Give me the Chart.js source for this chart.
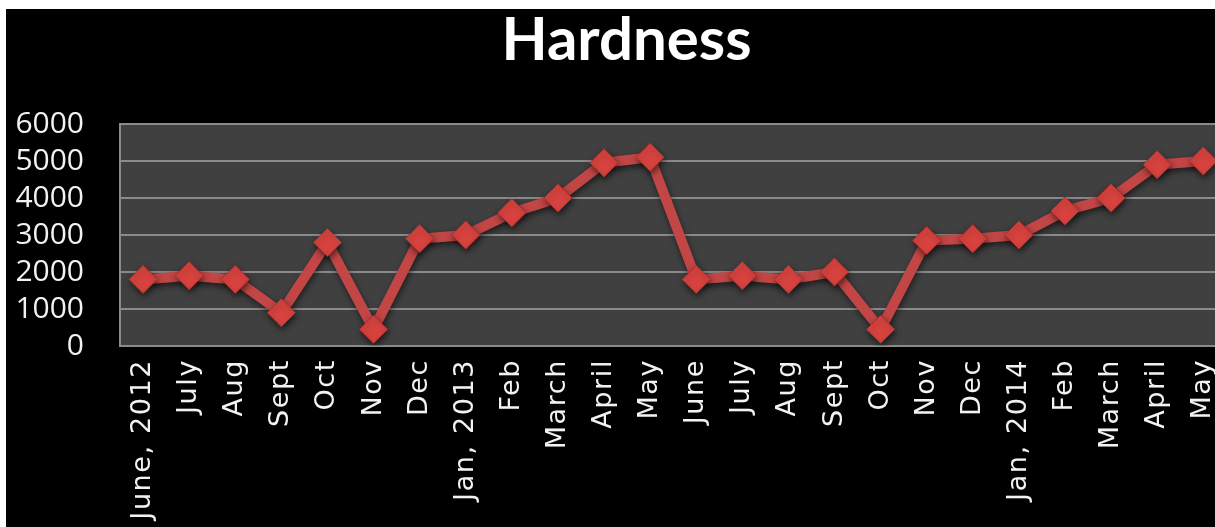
<!DOCTYPE html>
<html>
<head>
<meta charset="utf-8">
<title>Hardness</title>
<script src="https://cdn.jsdelivr.net/npm/chart.js@4/dist/chart.umd.min.js"></script>
<style>
  html, body { margin: 0; padding: 0; background: #fff; overflow: hidden; width: 1215px; height: 527px; }
  #wrap { position: absolute; left: 6px; top: 9px; width: 1243px; height: 518px; background: #000; }
  canvas { display: block; }
</style>
</head>
<body>
<div id="wrap"><canvas id="hardnessChart" width="1243" height="518"></canvas></div>
<script>
  // month labels, June 2012 .. May 2014
  const monthLabels = [
    "June, 2012", "July", "Aug", "Sept", "Oct", "Nov", "Dec", "Jan, 2013",
    "Feb", "March", "April", "May", "June", "July", "Aug", "Sept",
    "Oct", "Nov", "Dec", "Jan, 2014", "Feb", "March", "April", "May"
  ];
  const hardnessValues = [
    1800, 1900, 1800, 900, 2800, 450, 2900, 3000,
    3600, 4000, 4950, 5100, 1800, 1900, 1800, 2000,
    450, 2850, 2900, 3000, 3650, 4000, 4900, 5000
  ];
  const yMin = 0;
  const yMax = 6000;
  const yStep = 1000;

  // dark grey plot area behind the grid
  const plotBg = {
    id: "plotBg",
    beforeDraw(chart) {
      const { ctx, chartArea: a } = chart;
      ctx.save();
      ctx.fillStyle = "#404040";
      ctx.fillRect(a.left, a.top, a.right - a.left, a.bottom - a.top);
      ctx.restore();
    }
  };

  // soft drop shadow under the line and markers
  const markerShadow = {
    id: "markerShadow",
    beforeDatasetsDraw(chart) {
      const ctx = chart.ctx;
      ctx.save();
      ctx.shadowColor = "rgba(0,0,0,0.55)";
      ctx.shadowBlur = 6;
      ctx.shadowOffsetX = 1;
      ctx.shadowOffsetY = 3;
    },
    afterDatasetsDraw(chart) {
      chart.ctx.restore();
    }
  };

  // month names are drawn a little letter-spaced
  const spacedMonths = {
    id: "spacedMonths",
    afterLayout(chart) {
      const sx = chart.scales.x;
      if (sx._spaced) return;
      const orig = sx.drawLabels;
      sx.drawLabels = function (area) {
        const c = this.ctx;
        c.save();
        c.letterSpacing = "1.6px";
        orig.call(this, area);
        c.restore();
      };
      sx._spaced = true;
    }
  };

  const ctx = document.getElementById("hardnessChart").getContext("2d");
  new Chart(ctx, {
    type: "line",
    data: {
      labels: monthLabels,
      datasets: [{
        label: "Hardness",
        data: hardnessValues,
        borderColor: "#c24645",
        borderWidth: 10,
        tension: 0,
        pointStyle: "rectRot",
        pointRadius: 14,
        pointBackgroundColor: "#d8433f",
        pointBorderColor: "#b3302d",
        pointBorderWidth: 1
      }]
    },
    options: {
      responsive: false,
      animation: false,
      layout: { padding: { top: 0, right: 2, bottom: 0, left: 0 } },
      plugins: {
        legend: { display: false },
        tooltip: { enabled: false },
        title: {
          display: true,
          text: "Hardness",
          color: "#ffffff",
          font: { family: "Lato", size: 60, weight: "bold", lineHeight: 1 },
          padding: { top: 2, bottom: 53 }
        }
      },
      scales: {
        x: {
          offset: true,
          grid: { display: false, drawTicks: false },
          border: { display: true, color: "#8a8a8a", width: 2 },
          ticks: {
            color: "#f2f2f2",
            font: { family: "DejaVu Sans", size: 27 },
            minRotation: 90,
            maxRotation: 90,
            autoSkip: false,
            padding: 13
          },
          afterFit(scale) { scale.height = 181; }
        },
        y: {
          min: yMin,
          max: yMax,
          grid: { color: "#8a8a8a", lineWidth: 2, drawTicks: false },
          border: { display: true, color: "#8a8a8a", width: 2 },
          ticks: {
            stepSize: yStep,
            autoSkip: false,
            color: "#f2f2f2",
            font: { family: "Open Sans", size: 30 },
            padding: 36,
            callback: (v) => String(v)
          },
          afterFit(scale) { scale.width = 114; }
        }
      }
    },
    plugins: [plotBg, markerShadow, spacedMonths]
  });
</script>
</body>
</html>
